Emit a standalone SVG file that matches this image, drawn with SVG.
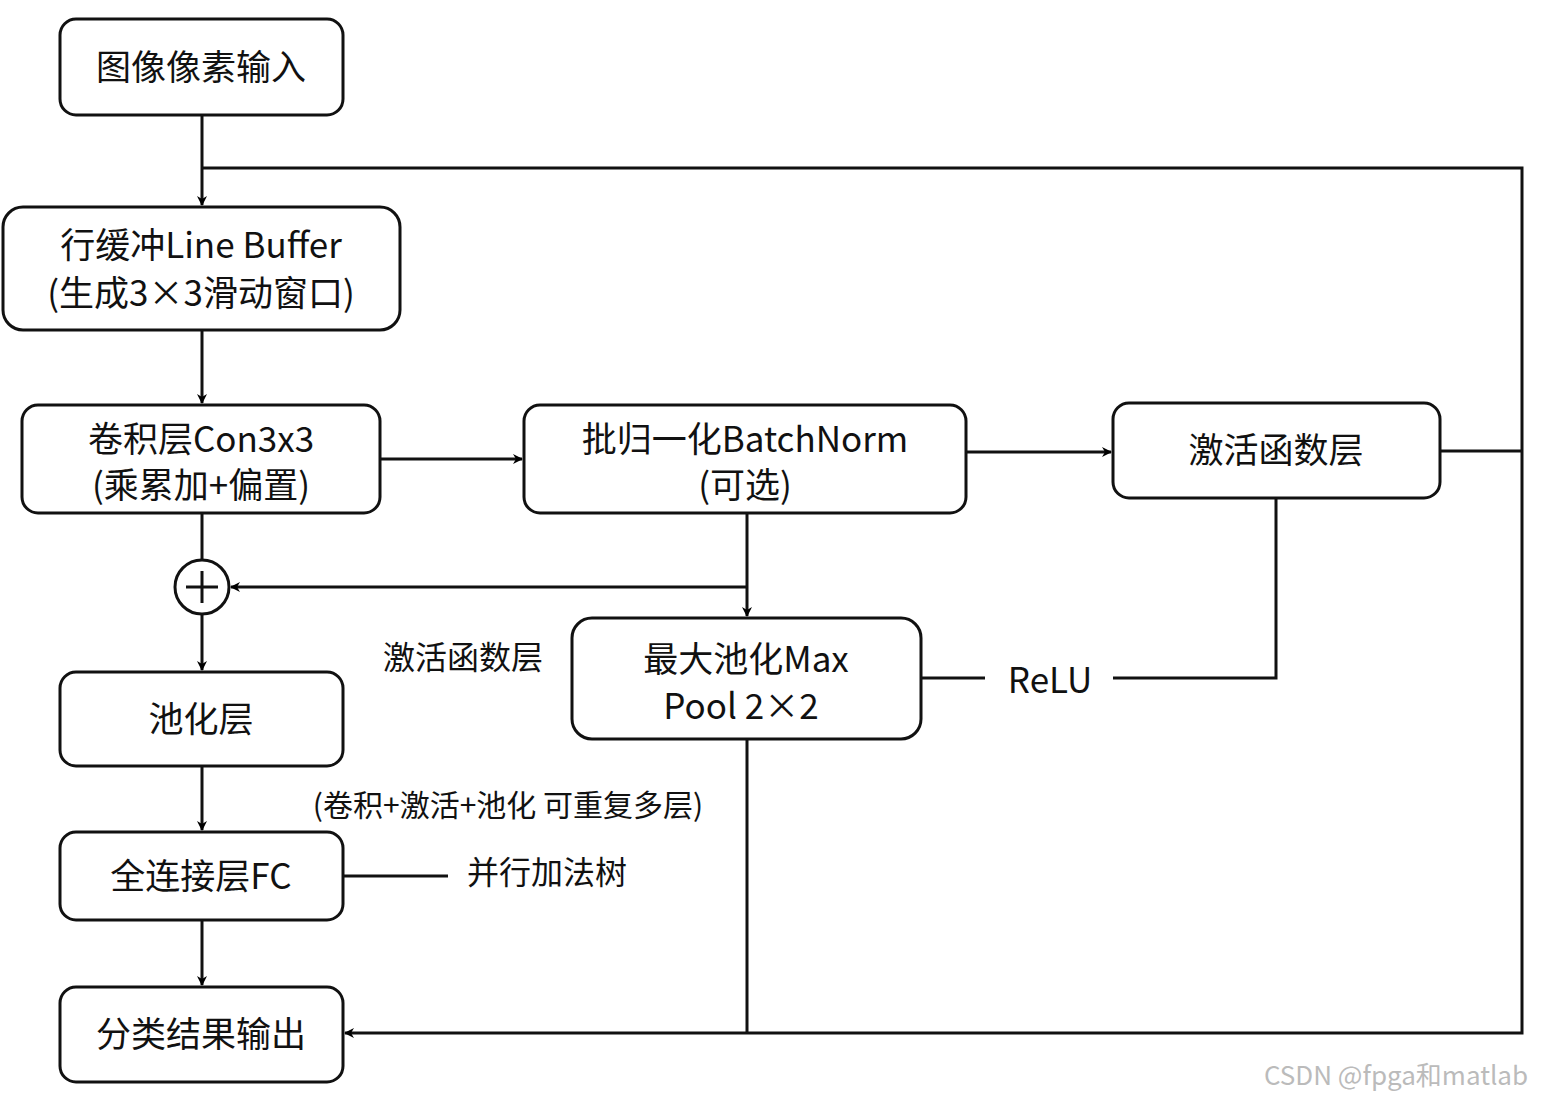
<svg xmlns="http://www.w3.org/2000/svg" width="1544" height="1101" viewBox="0 0 1544 1101">
<defs>
<marker id="a" markerWidth="10" markerHeight="10" refX="9" refY="5" orient="auto" markerUnits="userSpaceOnUse" viewBox="0 0 10 10"><path d="M0,0 L10,5 L0,10 L3,5 Z" fill="#000"/></marker>
</defs>
<style>
.n rect{fill:#fff;stroke:#111;stroke-width:3}
text{font-family:"Noto Sans CJK SC","Noto Sans",sans-serif;font-size:35px;fill:#111;text-anchor:middle}
.c path{fill:none;stroke:#111;stroke-width:3}
.m{marker-end:url(#a)}
</style>
<rect width="1544" height="1101" fill="#fff"/>
<g class="c">
<path class="m" d="M202,115 V205"/>
<path class="m" d="M202,168 H1522 V1033 H345"/>
<path d="M1440,451 H1522"/>
<path class="m" d="M202,330 V403"/>
<path class="m" d="M380,459 H522"/>
<path class="m" d="M966,452 H1111"/>
<path d="M202,513 V560"/>
<path class="m" d="M202,614 V670"/>
<path class="m" d="M747,513 V616"/>
<path class="m" d="M747,587 H231"/>
<path d="M1276,498 V678 H1113 M985,678 H921"/>
<path d="M747,739 V1033"/>
<path class="m" d="M202,766 V830"/>
<path class="m" d="M202,920 V985"/>
<path d="M343,876 H448"/>
</g>
<g id="input" class="n"><rect x="60" y="19" width="283" height="96" rx="16"/><text x="201" y="80">图像像素输入</text></g>
<g id="linebuf" class="n"><rect x="3" y="207" width="397" height="123" rx="20"/><text x="201" y="258">行缓冲Line Buffer</text><text x="201" y="306">(生成3×3滑动窗口)</text></g>
<g id="conv" class="n"><rect x="22" y="405" width="358" height="108" rx="16"/><text x="201" y="452">卷积层Con3x3</text><text x="201" y="498">(乘累加+偏置)</text></g>
<g id="bn" class="n"><rect x="524" y="405" width="442" height="108" rx="16"/><text x="745" y="452">批归一化BatchNorm</text><text x="745" y="498">(可选)</text></g>
<g id="act" class="n"><rect x="1113" y="403" width="327" height="95" rx="16"/><text x="1276" y="463">激活函数层</text></g>
<g id="add"><circle cx="202" cy="587" r="27" fill="#fff" stroke="#111" stroke-width="3"/><path d="M186,587 H218 M202,571 V603" stroke="#111" stroke-width="3"/></g>
<g id="pool" class="n"><rect x="60" y="672" width="283" height="94" rx="16"/><text x="201" y="732">池化层</text></g>
<g id="maxpool" class="n"><rect x="572" y="618" width="349" height="121" rx="20"/><text x="746" y="672">最大池化Max</text><text x="741" y="719">Pool 2×2</text></g>
<g id="fc" class="n"><rect x="60" y="832" width="283" height="88" rx="16"/><text x="201" y="889">全连接层FC</text></g>
<g id="out" class="n"><rect x="60" y="987" width="283" height="95" rx="16"/><text x="201" y="1047">分类结果输出</text></g>
<text x="1050" y="693">ReLU</text>
<text x="463" y="669" style="font-size:32px">激活函数层</text>
<text x="508" y="816" style="font-size:30px">(卷积+激活+池化 可重复多层)</text>
<text x="547" y="884" style="font-size:32px">并行加法树</text>
<text x="1396" y="1085" style="font-size:26px;fill:#bbb">CSDN @fpga和matlab</text>
</svg>
